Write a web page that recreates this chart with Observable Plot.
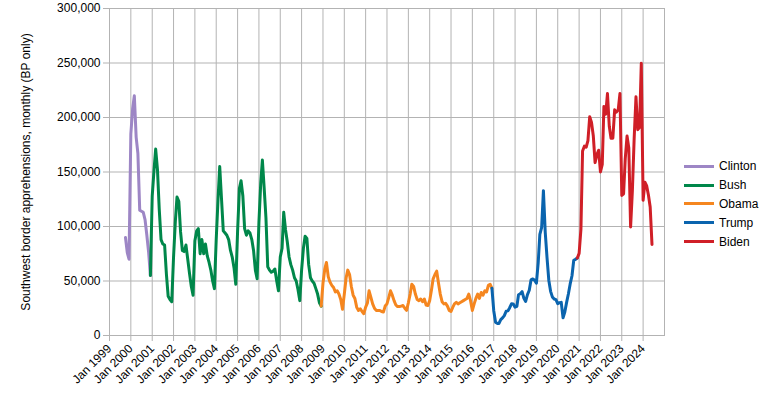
<!DOCTYPE html>
<html>
<head>
<meta charset="utf-8">
<script src="https://cdn.jsdelivr.net/npm/d3@7"></script>
<script src="https://cdn.jsdelivr.net/npm/@observablehq/plot@0.6"></script>
<style>
  html, body { margin: 0; padding: 0; background: #fff; }
  #wrap { position: relative; width: 772px; height: 409px; font-family: "Liberation Sans", Arial, sans-serif; }
  #legend { position: absolute; left: 684px; top: 157px; font-size: 12px; color: #000; }
  #legend .row { display: flex; align-items: center; height: 18.8px; }
  #legend .sw { display: inline-block; width: 30px; height: 3px; margin-right: 5px; }
</style>
</head>
<body>
<div id="wrap"><div id="legend"></div></div>
<script>
const presidents = ["Clinton", "Bush", "Obama", "Trump", "Biden"];
const colors = ["#9d86c5", "#00874a", "#f5861f", "#0a64ae", "#d01f27"];
const startMonths = [[1999, 9], [2000, 11], [2008, 11], [2016, 11], [2020, 11]]; // [year, month index]

const clinton = [90000, 76000, 70000, 185000, 208000, 220000, 182000, 167000, 115000, 114000, 113000, 106000, 92000, 76000, 55000];

const bush = [
  55000,
  128000, 152000, 171000, 152000, 116000, 88000, 84000, 83000, 56000, 36000, 33000, 31000,
  72000, 105000, 127000, 123000, 95000, 78000, 77000, 83000, 70000, 57000, 45000, 37000,
  87000, 96000, 98000, 75000, 88000, 75000, 84000, 73000, 67000, 60000, 50000, 43000,
  88000, 125000, 155000, 125000, 96000, 94000, 92000, 88000, 78000, 72000, 62000, 47000,
  96000, 135000, 142000, 128000, 98000, 92000, 96000, 94000, 88000, 78000, 60000, 52000,
  104000, 140000, 161000, 135000, 108000, 63000, 60000, 58000, 59000, 61000, 50000, 41000,
  72000, 80000, 113000, 97000, 86000, 72000, 65000, 60000, 53000, 50000, 42000, 32000,
  60000, 80000, 91000, 89000, 65000, 53000, 50000, 48000, 43000, 38000, 30000, 27000
];

const obama = [
  27000,
  48000, 61000, 67000, 54000, 49000, 46000, 44000, 40000, 41000, 38000, 33000, 24000,
  38000, 53000, 60000, 56000, 45000, 37000, 34000, 26000, 23000, 24500, 22000, 20000,
  26000, 30000, 41000, 35000, 29000, 25000, 23000, 23000, 23000, 22000, 21500, 27000,
  29000, 35000, 41000, 37000, 32000, 28000, 26500, 26500, 27000, 27500, 25000, 23000,
  30000, 38000, 47000, 45000, 38000, 33000, 32000, 33500, 31000, 33500, 28000, 27500,
  32000, 42000, 52000, 56000, 59000, 48000, 38000, 31000, 29000, 29500, 27000, 23000,
  22000, 26000, 29000, 30500, 29000, 30000, 31000, 32000, 33000, 34000, 38000, 32000,
  23000, 29000, 34000, 38000, 34000, 39500, 37000, 41000, 40000, 46000, 47000, 43300
];

const trump = [
  43300,
  22800, 12200, 11100, 11100, 14500, 16100, 18200, 22300, 22600, 25500, 29100, 29000,
  26000, 26700, 37400, 38300, 40300, 34100, 31300, 37500, 41500, 51000, 51900, 50700,
  48000, 66900, 92800, 99300, 132900, 94900, 72000, 50700, 40500, 35400, 33500, 32900,
  29200, 30100, 30400, 16200, 21600, 30400, 38100, 47300, 54800, 69000, 69900, 71100
];

const biden = [
  71100,
  75300, 97600, 169200, 173700, 172700, 178800, 200700, 195500, 183000, 158600, 166000, 170000,
  150000, 157000, 210000, 203000, 222000, 192000, 181000, 181000, 207000, 205000, 207000, 222000,
  128500, 130000, 162000, 183000, 172000, 99500, 132500, 181000, 219000, 188800, 191000, 249700,
  124000, 140600, 137500, 128900, 117900, 83500
];

const series = [clinton, bush, obama, trump, biden];
const yTicks = [0, 50000, 100000, 150000, 200000, 250000, 300000];
const xTicks = d3.utcYears(new Date(Date.UTC(1999, 0, 1)), new Date(Date.UTC(2025, 0, 1)));
const yLabel = "Southwest border apprehensions, monthly (BP only)";

const rows = [];
series.forEach((vals, i) => {
  const [y0, m0] = startMonths[i];
  vals.forEach((v, j) => rows.push({president: presidents[i], date: new Date(Date.UTC(y0, m0 + j, 1)), value: v}));
});

const grid = "#b3b3b3";
const chart = Plot.plot({
  width: 772,
  height: 409,
  marginLeft: 109,
  marginRight: 108,
  marginTop: 8,
  marginBottom: 74,
  style: {fontFamily: "'Liberation Sans', Arial, sans-serif", fontSize: "12px", color: "#000", background: "#fff", overflow: "visible"},
  x: {type: "utc", domain: [new Date(Date.UTC(1999, 0, 1)), new Date(Date.UTC(2025, 0, 1))]},
  y: {domain: [0, 300000]},
  color: {domain: presidents, range: colors},
  marks: [
    Plot.gridX(xTicks, {stroke: grid, strokeOpacity: 1}),
    Plot.gridY(yTicks, {stroke: grid, strokeOpacity: 1}),
    Plot.frame({stroke: grid}),
    Plot.axisX(xTicks, {tickRotate: -45, tickFormat: d3.utcFormat("%b %Y"), stroke: grid, fill: "#000", tickSize: 6, tickPadding: 5, label: null, fontSize: 12}),
    Plot.axisY(yTicks, {tickFormat: d3.format(","), stroke: grid, fill: "#000", tickSize: 6, tickPadding: 3, label: yLabel, labelAnchor: "center", labelArrow: "none", labelOffset: 88, fontSize: 12}),
    Plot.line(rows, {x: "date", y: "value", z: "president", stroke: "president", strokeWidth: 3, strokeLinejoin: "round", strokeLinecap: "round"})
  ]
});
const wrap = document.getElementById("wrap");
wrap.insertBefore(chart, wrap.firstChild);

const legend = document.getElementById("legend");
presidents.forEach((p, i) => {
  const row = document.createElement("div");
  row.className = "row";
  const sw = document.createElement("span");
  sw.className = "sw";
  sw.style.background = colors[i];
  row.appendChild(sw);
  row.appendChild(document.createTextNode(p));
  legend.appendChild(row);
});
</script>
</body>
</html>
